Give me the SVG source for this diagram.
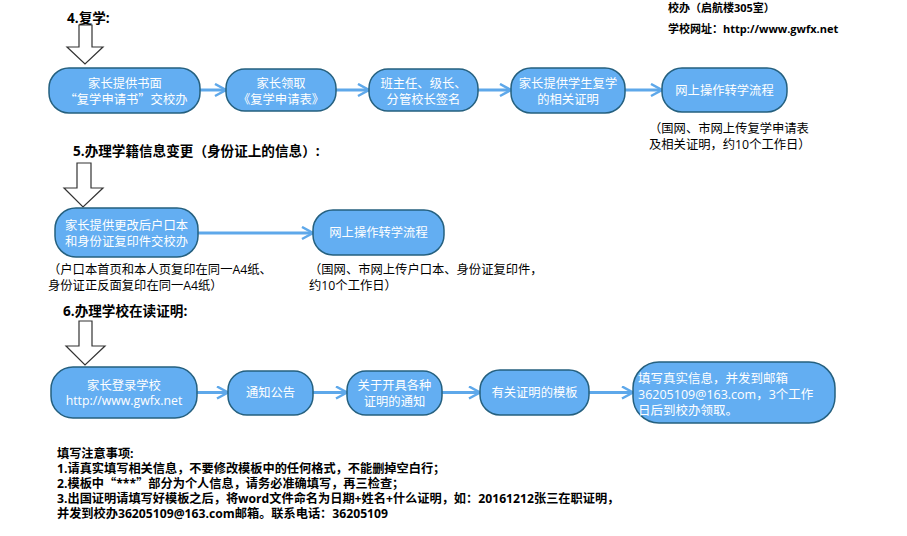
<svg xmlns="http://www.w3.org/2000/svg" width="907" height="536" viewBox="0 0 907 536">
<defs>
<style>
text{font-family:"Open Sans","Noto Sans CJK SC",sans-serif;}
.cjk{font-family:"Noto Sans CJK SC",sans-serif;}
.title{font-size:13.6px;font-weight:bold;fill:#000;}
.info{font-size:11px;font-weight:bold;fill:#000;}
.note{font-size:12.2px;font-weight:bold;fill:#000;}
.cap{font-size:12.3px;fill:#000;}
.bt{font-size:12.3px;fill:#fff;text-anchor:middle;}
.btl{font-size:12.5px;fill:#fff;}
.box{fill:#63aef2;stroke:#25607f;stroke-width:1.5;}
.down{fill:#fff;stroke:#333;stroke-width:1.2;}
.con{stroke:#5ea8ea;stroke-width:3;fill:none;marker-end:url(#ah);}
</style>
<marker id="ah" markerUnits="userSpaceOnUse" markerWidth="16" markerHeight="16" refX="13" refY="7" orient="auto">
<path d="M2,1 L13,7 L2,13" fill="none" stroke="#5ea8ea" stroke-width="2.5"/>
</marker>
</defs>
<rect width="907" height="536" fill="#fff"/>

<g id="header">
<text class="info" x="668" y="12">校办（启航楼305室）</text>
<text class="info" x="668" y="33">学校网址：http://www.gwfx.net</text>
</g>

<g id="titles">
<text class="title" x="67" y="23">4.复学:</text>
<text class="title" x="73" y="156">5.办理学籍信息变更（身份证上的信息）:</text>
<text class="title" x="63" y="316">6.办理学校在读证明:</text>
</g>

<g id="down-arrows">
<path class="down" d="M79,25 L92,25 L92,47 L103,47 L85,64 L67,47 L79,47 Z"/>
<path class="down" d="M77,163 L91,163 L91,188 L103,188 L83,207 L64,188 L77,188 Z"/>
<path class="down" d="M79,321 L92,321 L92,346 L105,346 L85,365 L66,346 L79,346 Z"/>
</g>

<g id="connectors">
<line class="con" x1="200" y1="90" x2="226" y2="90"/>
<line class="con" x1="336" y1="90" x2="369" y2="90"/>
<line class="con" x1="478" y1="90" x2="511" y2="90"/>
<line class="con" x1="625" y1="90" x2="662" y2="90"/>
<line class="con" x1="198" y1="233" x2="313" y2="233"/>
<line class="con" x1="197" y1="392.5" x2="228" y2="392.5"/>
<line class="con" x1="313" y1="392.5" x2="347" y2="392.5"/>
<line class="con" x1="442" y1="392.5" x2="480" y2="392.5"/>
<line class="con" x1="589" y1="392.5" x2="633" y2="392.5"/>
</g>

<g id="n4-1">
<rect class="box" x="49" y="68" width="151" height="45" rx="20"/>
<text class="bt" x="125" y="87.5">家长提供书面</text>
<text class="bt" x="126" y="104"><tspan class="cjk">“</tspan>复学申请书<tspan class="cjk">”</tspan>交校办</text>
</g>
<g id="n4-2">
<rect class="box" x="226" y="69" width="110" height="42" rx="19"/>
<text class="bt" x="281" y="87.5">家长领取</text>
<text class="bt" x="281" y="104">《复学申请表》</text>
</g>
<g id="n4-3">
<rect class="box" x="369" y="69" width="109" height="42" rx="19"/>
<text class="bt" x="423.5" y="87.5">班主任、级长、</text>
<text class="bt" x="423.5" y="104">分管校长签名</text>
</g>
<g id="n4-4">
<rect class="box" x="511" y="68" width="114" height="45" rx="20"/>
<text class="bt" x="568" y="87.5">家长提供学生复学</text>
<text class="bt" x="568" y="104">的相关证明</text>
</g>
<g id="n4-5">
<rect class="box" x="662" y="68" width="125" height="44" rx="20"/>
<text class="bt" x="724.5" y="95">网上操作转学流程</text>
</g>
<g id="cap4">
<text class="cap" x="649" y="133">（国网、市网上传复学申请表</text>
<text class="cap" x="649" y="148.5">及相关证明，约10个工作日）</text>
</g>

<g id="n5-1">
<rect class="box" x="55" y="208" width="143" height="49" rx="21"/>
<text class="bt" x="126.5" y="229.5">家长提供更改后户口本</text>
<text class="bt" x="126.5" y="246">和身份证复印件交校办</text>
</g>
<g id="n5-2">
<rect class="box" x="313" y="210" width="131" height="45" rx="20"/>
<text class="bt" x="378.5" y="237">网上操作转学流程</text>
</g>
<g id="cap5">
<text class="cap" x="48" y="274">（户口本首页和本人页复印在同一A4纸、</text>
<text class="cap" x="48" y="290">身份证正反面复印在同一A4纸）</text>
<text class="cap" x="309" y="274">（国网、市网上传户口本、身份证复印件，</text>
<text class="cap" x="309" y="290">约10个工作日）</text>
</g>

<g id="n6-1">
<rect class="box" x="51" y="367" width="146" height="51" rx="22"/>
<text class="bt" x="124" y="389.5">家长登录学校</text>
<text class="bt" x="124" y="405">http://www.gwfx.net</text>
</g>
<g id="n6-2">
<rect class="box" x="228" y="371" width="85" height="44" rx="19"/>
<text class="bt" x="270.5" y="397">通知公告</text>
</g>
<g id="n6-3">
<rect class="box" x="347" y="371" width="95" height="44" rx="19"/>
<text class="bt" x="394.5" y="389.5">关于开具各种</text>
<text class="bt" x="394.5" y="405.5">证明的通知</text>
</g>
<g id="n6-4">
<rect class="box" x="480" y="370" width="109" height="45" rx="20"/>
<text class="bt" x="534.5" y="397">有关证明的模板</text>
</g>
<g id="n6-5">
<rect class="box" x="633" y="362" width="202" height="61" rx="26"/>
<text class="btl" x="638" y="382.5">填写真实信息，并发到邮箱</text>
<text class="btl" x="638" y="398.5">36205109@163.com，3个工作</text>
<text class="btl" x="638" y="414.5">日后到校办领取。</text>
</g>

<g id="notes">
<text class="note" x="57" y="458">填写注意事项:</text>
<text class="note" x="57" y="473">1.请真实填写相关信息，不要修改模板中的任何格式，不能删掉空白行；</text>
<text class="note" x="57" y="488">2.模板中<tspan class="cjk">“</tspan>***<tspan class="cjk">”</tspan>部分为个人信息，请务必准确填写，再三检查；</text>
<text class="note" x="57" y="503">3.出国证明请填写好模板之后，将word文件命名为日期+姓名+什么证明，如：20161212张三在职证明，</text>
<text class="note" x="57" y="518">并发到校办36205109@163.com邮箱。联系电话：36205109</text>
</g>
</svg>
